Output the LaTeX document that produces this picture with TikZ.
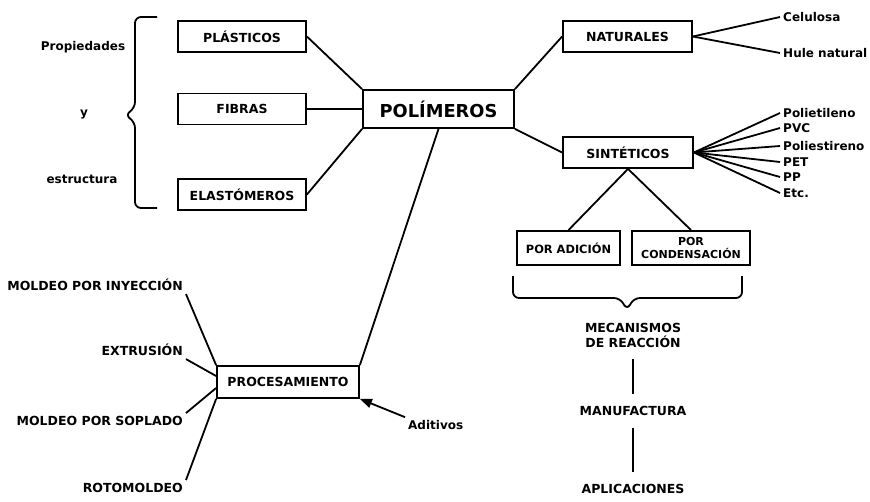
\documentclass[tikz,border=0pt]{standalone}
\usepackage{fontspec}
\setmainfont{DejaVu Sans}
\usetikzlibrary{arrows.meta, positioning, calc}
\tikzset{every node/.append style={align=center, inner sep=3pt}}

\begin{document}
\begin{tikzpicture}[x=1pt, y=-1pt,
    box/.style={rectangle, draw=black, line width=1.8pt, fill=white,
        minimum width=128pt, minimum height=31pt, font=\fontsize{12.5}{14}\selectfont\bfseries},
    bigbox/.style={box, minimum width=151pt, minimum height=38pt,
        font=\fontsize{17.8}{20}\selectfont\bfseries},
    lbl/.style={font=\fontsize{12}{14}\selectfont\bfseries},
    caps/.style={font=\fontsize{12.5}{15}\selectfont\bfseries},
    stage/.style={caps, inner ysep=12pt},
    link/.style={line width=1.8pt, black},
    curly/.style={line width=1.8pt, black, rounded corners=6pt},
    arr/.style={-{Triangle[length=12pt, width=9pt]}, line width=1.8pt, black}
]
\useasboundingbox (0,0) rectangle (870,501);
% centre
\node[bigbox] (pol) at (438.5,109) {POLÍMEROS};
% properties and structure (left)
\node[box] (plas) at (242,36.5) {PLÁSTICOS};
\node[box] (fib) at (242,109) {FIBRAS};
\node[box] (ela) at (242,194.5) {ELASTÓMEROS};
\draw[link] (plas.east) -- (pol.north west);
\draw[link] (fib.east) -- (pol.west);
\draw[link] (ela.east) -- (pol.south west);
\draw[curly] (157,17) -- (135,17) -- (135,108) -- (125,115) -- (135,122) -- (135,208) -- (157,208);
\node[lbl] (prop) at (83,47) {Propiedades};
\node[lbl] (yy) at (84,115) {y};
\node[lbl] (estr) at (82,179) {estructura};
% origin (right)
\node[box, minimum width=129pt] (nat) at (627.5,36.5) {NATURALES};
\node[box, minimum width=130pt] (sin) at (628,152.5) {SINTÉTICOS};
\draw[link] (pol.north east) -- (nat.west);
\draw[link] (pol.south east) -- (sin.west);
\node[lbl, anchor=west] (cel) at (780,17) {Celulosa};
\node[lbl, anchor=west] (hule) at (780,53) {Hule natural};
\draw[link] (nat.east) -- (cel.west);
\draw[link] (nat.east) -- (hule.west);
\foreach \name/\txt/\yy in {pe/Polietileno/113, pvc/PVC/128, ps/Poliestireno/146,
    pet/PET/162, pp/PP/177, etc/Etc./193} {
  \node[lbl, anchor=west] (\name) at (780,\yy) {\txt};
  \draw[link] (sin.east) -- (\name.west);
}
% reaction mechanisms
\node[box, minimum width=103pt, minimum height=34pt, font=\fontsize{11.4}{13}\selectfont\bfseries]
    (add) at (568.5,248) {POR ADICIÓN};
\node[box, minimum width=118pt, minimum height=34pt, font=\fontsize{11}{13}\selectfont\bfseries]
    (cond) at (691,248) {POR\\CONDENSACIÓN};
\draw[link] (sin.south) -- (add.north);
\draw[link] (sin.south) -- (cond.north);
\draw[curly] (513,276) -- (513,298) -- (620,298) -- (627,310) -- (634,298) -- (742,298) -- (742,276);
\node[stage] (mec) at (633,335) {MECANISMOS\\DE REACCIÓN};
\node[stage] (man) at (633,411) {MANUFACTURA};
\node[stage] (apl) at (633,489) {APLICACIONES};
\draw[link] (mec) -- (man);
\draw[link] (man) -- (apl);
% processing (bottom left)
\node[box, minimum width=142pt, minimum height=32pt] (proc) at (288,382) {PROCESAMIENTO};
\draw[link] (pol.south) -- (proc.north east);
\node[caps, anchor=east] (iny) at (186,285) {MOLDEO POR INYECCIÓN};
\node[caps, anchor=east] (ext) at (186,350) {EXTRUSIÓN};
\node[caps, anchor=east] (sop) at (186,421) {MOLDEO POR SOPLADO};
\node[caps, anchor=east] (rot) at (186,488) {ROTOMOLDEO};
\draw[link] (iny.south east) -- (proc.north west);
\draw[link] (ext.south east) -- ([yshift=6pt]proc.west);
\draw[link] (sop.north east) -- ([yshift=-6pt]proc.west);
\draw[link] (rot.north east) -- (proc.south west);
\node[lbl, anchor=west] (adi) at (405,425) {Aditivos};
\draw[arr] (adi.north west) -- (proc.south east);
\end{tikzpicture}
\end{document}
